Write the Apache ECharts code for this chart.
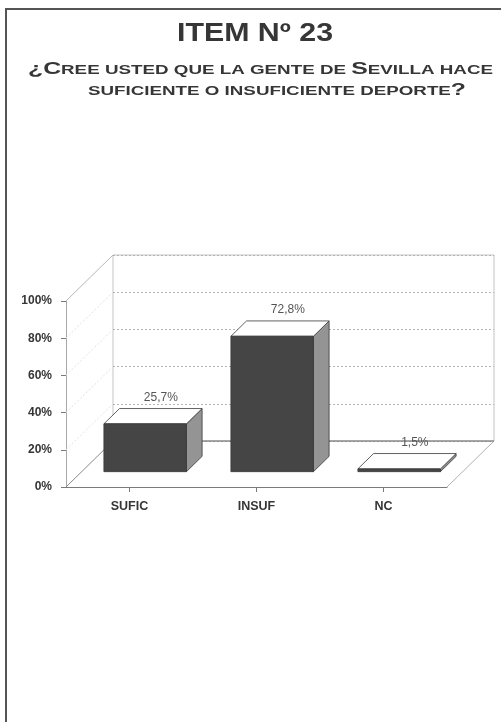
<!DOCTYPE html>
<html>
<head>
<meta charset="utf-8">
<script src="https://cdn.jsdelivr.net/npm/echarts@6/dist/echarts.min.js"></script>
<style>
  html, body { margin: 0; padding: 0; background: #ffffff; }
  #chart { width: 501px; height: 722px; }
</style>
</head>
<body>
<div id="chart"></div>
<script>
// Survey answers, item 23
const categories = ['SUFIC', 'INSUF', 'NC'];
const percentages = [25.7, 72.8, 1.5];
const yTicks = [0, 20, 40, 60, 80, 100];

const FONT = '"Liberation Sans", Arial, Helvetica, sans-serif';
const TEXT_DARK = '#363636';
// Oblique offset from the front plane to the back wall (pixels)
const DEPTH = [47, -46];

// Front plane of the 3D box (the labelled axes) and the back wall behind it
const FRONT = { left: 66, top: 301, width: 381, height: 186 };
const BACK = {
  left: FRONT.left + DEPTH[0], top: FRONT.top + DEPTH[1],
  width: FRONT.width, height: FRONT.height
};

const measureCtx = document.createElement('canvas').getContext('2d');

// A heading line made of bold runs of different sizes (small caps),
// stretched horizontally to span [x0, x1].
function headingLine(runs, x0, x1, baseline) {
  let cursor = 0;
  const children = runs.map(function (r) {
    const font = 'bold ' + r.size + 'px ' + FONT;
    measureCtx.font = font;
    const w = measureCtx.measureText(r.text).width;
    const el = {
      type: 'text',
      x: cursor,
      y: -0.35 * r.size,
      style: {
        text: r.text, font: font, fill: TEXT_DARK,
        textAlign: 'left', textVerticalAlign: 'middle', verticalAlign: 'middle'
      }
    };
    cursor += w;
    return el;
  });
  return { type: 'group', x: x0, y: baseline, scaleX: (x1 - x0) / cursor, children: children };
}

function formatPct(v) {
  return v.toFixed(1).replace('.', ',') + '%';
}

// Walls, floor edges and the faint side-wall grid of the 3D box
function renderFrame(params, api) {
  const cs = params.coordSys;
  const x0 = cs.x, y0 = cs.y, w = cs.width, h = cs.height;
  const dx = DEPTH[0], dy = DEPTH[1];
  const line = function (a, b, color, extra) {
    return {
      type: 'line',
      shape: { x1: a[0], y1: a[1], x2: b[0], y2: b[1] },
      style: Object.assign({ stroke: color, lineWidth: 1 }, extra || {})
    };
  };
  const children = [];
  yTicks.slice(1, -1).forEach(function (t) {
    const y = api.coord([0, t])[1];
    children.push(line([x0, y], [x0 + dx, y + dy], '#e2e2e2', { lineDash: [2, 2] }));
  });
  children.push(line([x0, y0], [x0 + dx, y0 + dy], '#b8b8b8'));
  children.push(line([x0, y0 + h], [x0 + dx, y0 + h + dy], '#8a8a8a'));
  children.push(line([x0 + w, y0 + h], [x0 + w + dx, y0 + h + dy], '#b0b0b0'));
  children.push(line([x0 + dx, y0 + h + dy], [x0 + w + dx, y0 + h + dy], '#6a6a6a'));
  return { type: 'group', children: children };
}

// One 3D column: front face, top face, right side face and value label
function renderBar(params, api) {
  const idx = api.value(0);
  const val = api.value(1);
  const base = api.coord([idx, 0]);
  const top = api.coord([idx, val]);
  const band = api.size([1, 0])[0];
  const w = band * 0.65;
  const dx = DEPTH[0] / 3, dy = DEPTH[1] / 3;
  const L = base[0] - w / 2 + dx, R = L + w;
  const B = base[1] + dy, T = top[1] + dy;
  return {
    type: 'group',
    children: [
      {
        type: 'polygon',
        shape: { points: [[R, T], [R + dx, T + dy], [R + dx, B + dy], [R, B]] },
        style: { fill: '#949494', stroke: '#3a3a3a', lineWidth: 0.8 }
      },
      {
        type: 'polygon',
        shape: { points: [[L, T], [R, T], [R + dx, T + dy], [L + dx, T + dy]] },
        style: { fill: '#ffffff', stroke: '#3a3a3a', lineWidth: 0.8 }
      },
      {
        type: 'rect',
        shape: { x: L, y: T, width: w, height: Math.max(B - T, 1.5) },
        style: { fill: '#454545', stroke: '#3a3a3a', lineWidth: 0.8 }
      },
      {
        type: 'text',
        x: base[0] + 2 * DEPTH[0] / 3,
        y: T + dy - 11,
        style: {
          text: formatPct(val),
          font: '12px ' + FONT,
          fill: '#555555',
          textAlign: 'center', textVerticalAlign: 'middle', verticalAlign: 'middle'
        }
      }
    ]
  };
}

const chart = echarts.init(document.getElementById('chart'), null, { renderer: 'canvas' });

chart.setOption({
  backgroundColor: '#ffffff',
  animation: false,
  graphic: [
    {
      type: 'polyline',
      shape: { points: [[6, 722], [6, 9], [501, 9]] },
      style: { stroke: '#555555', lineWidth: 2, fill: null }
    },
    headingLine([{ text: 'ITEM Nº 23', size: 25.5 }], 177, 333, 43),
    headingLine([
      { text: '¿C', size: 16.5 },
      { text: 'REE USTED QUE LA GENTE DE ', size: 12.5 },
      { text: 'S', size: 16.5 },
      { text: 'EVILLA HACE', size: 12.5 }
    ], 28, 493, 75),
    headingLine([
      { text: 'SUFICIENTE O INSUFICIENTE DEPORTE', size: 12.5 },
      { text: '?', size: 16.5 }
    ], 88, 466, 96)
  ],
  grid: [
    { left: FRONT.left, top: FRONT.top, width: FRONT.width, height: FRONT.height },
    {
      left: BACK.left, top: BACK.top, width: BACK.width, height: BACK.height,
      show: true, borderColor: '#c4c4c4', borderWidth: 1, backgroundColor: 'transparent'
    }
  ],
  xAxis: [
    {
      type: 'category', gridIndex: 0, data: categories,
      axisLine: { show: true, lineStyle: { color: '#7a7a7a', width: 1 } },
      axisTick: { show: true, alignWithLabel: true, length: 5, lineStyle: { color: '#7a7a7a' } },
      axisLabel: { fontFamily: FONT, fontWeight: 'bold', fontSize: 12.5, color: TEXT_DARK, margin: 13 },
      splitLine: { show: false }
    },
    { type: 'category', gridIndex: 1, data: categories, show: false }
  ],
  yAxis: [
    {
      type: 'value', gridIndex: 0,
      min: yTicks[0], max: yTicks[yTicks.length - 1], interval: yTicks[1] - yTicks[0],
      axisLine: { show: true, lineStyle: { color: '#a8a8a8', width: 1 } },
      axisTick: { show: true, length: 5, lineStyle: { color: '#7a7a7a' } },
      axisLabel: {
        formatter: '{value}%', fontFamily: FONT, fontWeight: 'bold',
        fontSize: 12, color: TEXT_DARK, margin: 14
      },
      splitLine: { show: false }
    },
    {
      type: 'value', gridIndex: 1,
      min: yTicks[0], max: yTicks[yTicks.length - 1], interval: yTicks[1] - yTicks[0],
      axisLine: { show: false }, axisTick: { show: false }, axisLabel: { show: false },
      splitLine: { show: true, lineStyle: { color: '#b4b4b4', type: [2, 2], width: 1 } }
    }
  ],
  series: [
    {
      type: 'custom', xAxisIndex: 0, yAxisIndex: 0, z: 1,
      data: [[0, 0]],
      renderItem: renderFrame,
      silent: true
    },
    {
      type: 'custom', xAxisIndex: 0, yAxisIndex: 0, z: 3,
      data: percentages.map(function (v, i) { return [i, v]; }),
      encode: { x: 0, y: 1 },
      renderItem: renderBar
    }
  ]
});
</script>
</body>
</html>
